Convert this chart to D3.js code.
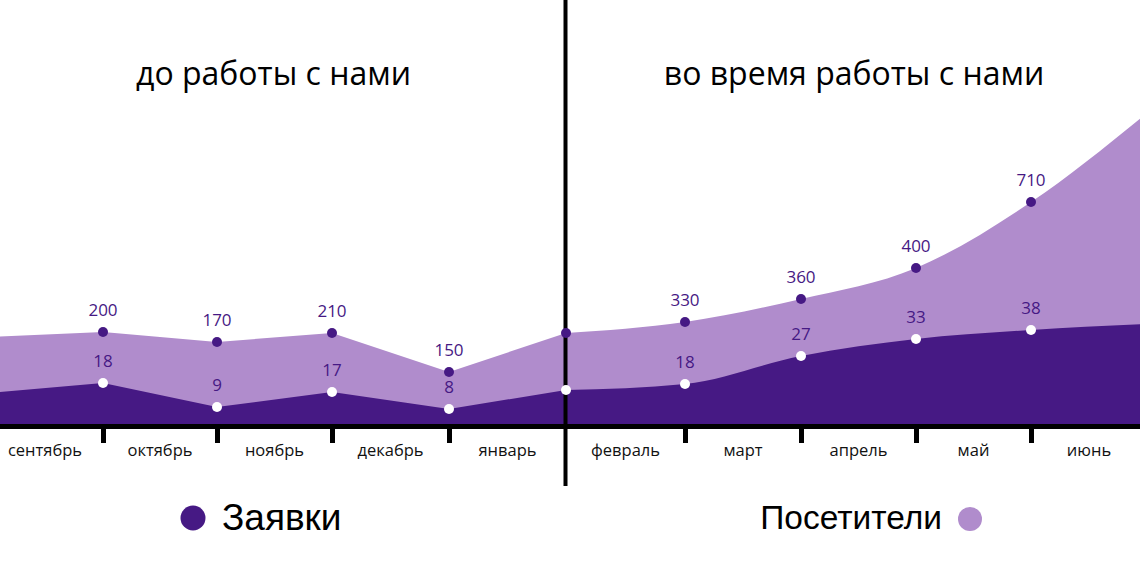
<!DOCTYPE html>
<html>
<head>
<meta charset="utf-8">
<script src="https://cdn.jsdelivr.net/npm/d3@7/dist/d3.min.js"></script>
<style>
  html, body { margin: 0; padding: 0; background: #fff; }
  svg { display: block; }
</style>
</head>
<body>
<svg id="chart" width="1140" height="563"></svg>
<script>
// ---- data ----
const months = ["сентябрь", "октябрь", "ноябрь", "декабрь", "январь", "февраль", "март", "апрель", "май", "июнь"];
// month boundaries 0..10; value labels at boundaries 1..9 (boundary 5 = start of cooperation, unlabeled)
const visitorsLabels = [null, 200, 170, 210, 150, null, 330, 360, 400, 710, null];
const ordersLabels   = [null, 18, 9, 17, 8, null, 18, 27, 33, 38, null];
// drawn heights (the original is not drawn to scale)
const visitorsLevel = [89, 94, 84, 93, 54, 93, 104, 127, 158, 224, 313];
const ordersLevel   = [33, 43, 19, 34, 17, 36, 42, 70, 87, 96, 102];
const periodTitles = ["до работы с нами", "во время работы с нами"];
const legendItems = ["Заявки", "Посетители"];
const splitIndex = 5;

// ---- styles ----
const DARK = "#461984";
const LIGHT = "#b08ccc";

const svg = d3.select("#chart");
const x = d3.scaleLinear()
  .domain(d3.range(0, 11))
  .range([-13, 103, 217, 332, 449, 566, 685, 801, 916, 1031, 1147]);
const y = d3.scaleLinear().domain([0, 100]).range([426, 326]);

const idx = d3.range(0, 11);
const before = idx.filter(i => i <= splitIndex);
const during = idx.filter(i => i >= splitIndex);

function drawArea(levels, color, indices, curve) {
  const area = d3.area()
    .x(i => x(i))
    .y0(y(0))
    .y1(i => y(levels[i]))
    .curve(curve);
  svg.append("path").datum(indices).attr("d", area).attr("fill", color);
}

drawArea(visitorsLevel, LIGHT, before, d3.curveLinear);
drawArea(visitorsLevel, LIGHT, during, d3.curveMonotoneX);
drawArea(ordersLevel, DARK, before, d3.curveLinear);
drawArea(ordersLevel, DARK, during, d3.curveMonotoneX);

// axis
const tickIdx = [1, 2, 3, 4, 6, 7, 8, 9];
const axisG = svg.append("g").attr("transform", `translate(0,${y(0)})`)
  .call(d3.axisBottom(x).tickValues(tickIdx).tickSize(17).tickSizeOuter(0).tickFormat(""));
axisG.select(".domain").attr("stroke", "#000").attr("stroke-width", 5);
axisG.selectAll(".tick line").attr("stroke", "#000").attr("stroke-width", 5);

// month labels
svg.append("g").selectAll("text").data(months).join("text")
  .attr("x", (d, i) => x(i + 0.5))
  .attr("y", 456)
  .attr("text-anchor", "middle")
  .attr("font-family", "'Open Sans', sans-serif")
  .attr("font-size", 16.5)
  .attr("fill", "#111")
  .text(d => d);

// divider
svg.append("line")
  .attr("x1", x(splitIndex) - 0.5).attr("x2", x(splitIndex) - 0.5)
  .attr("y1", 0).attr("y2", 486)
  .attr("stroke", "#000").attr("stroke-width", 4);

// points
const ptIdx = d3.range(1, 10);
svg.append("g").selectAll("circle").data(ptIdx).join("circle")
  .attr("cx", i => x(i)).attr("cy", i => y(visitorsLevel[i]))
  .attr("r", 5).attr("fill", DARK);
svg.append("g").selectAll("circle").data(ptIdx).join("circle")
  .attr("cx", i => x(i)).attr("cy", i => y(ordersLevel[i]))
  .attr("r", 5).attr("fill", "#fff");

// value labels
function valueLabels(labels, levels) {
  svg.append("g").selectAll("text").data(ptIdx.filter(i => labels[i] != null)).join("text")
    .attr("x", i => x(i))
    .attr("y", i => y(levels[i]) - 16)
    .attr("text-anchor", "middle")
    .attr("font-family", "'Open Sans', sans-serif")
    .attr("font-size", 17)
    .attr("fill", DARK)
    .text(i => labels[i]);
}
valueLabels(visitorsLabels, visitorsLevel);
valueLabels(ordersLabels, ordersLevel);

// titles
const titleX = [273.5, 854];
svg.append("g").selectAll("text").data(periodTitles).join("text")
  .attr("x", (d, i) => titleX[i])
  .attr("y", 85)
  .attr("text-anchor", "middle")
  .attr("font-family", "'Open Sans', sans-serif")
  .attr("font-size", 32)
  .attr("fill", "#000")
  .text(d => d);

// legend
svg.append("circle").attr("cx", 193).attr("cy", 518).attr("r", 12.5).attr("fill", DARK);
svg.append("text").attr("x", 222).attr("y", 530)
  .attr("font-family", "'Liberation Sans', Arial, sans-serif")
  .attr("font-size", 37).attr("fill", "#000").text(legendItems[0]);
svg.append("circle").attr("cx", 970).attr("cy", 519).attr("r", 12).attr("fill", LIGHT);
svg.append("text").attr("x", 942).attr("y", 528.5)
  .attr("text-anchor", "end")
  .attr("font-family", "'Liberation Sans', Arial, sans-serif")
  .attr("font-size", 33.5).attr("fill", "#000").text(legendItems[1]);
</script>
</body>
</html>
